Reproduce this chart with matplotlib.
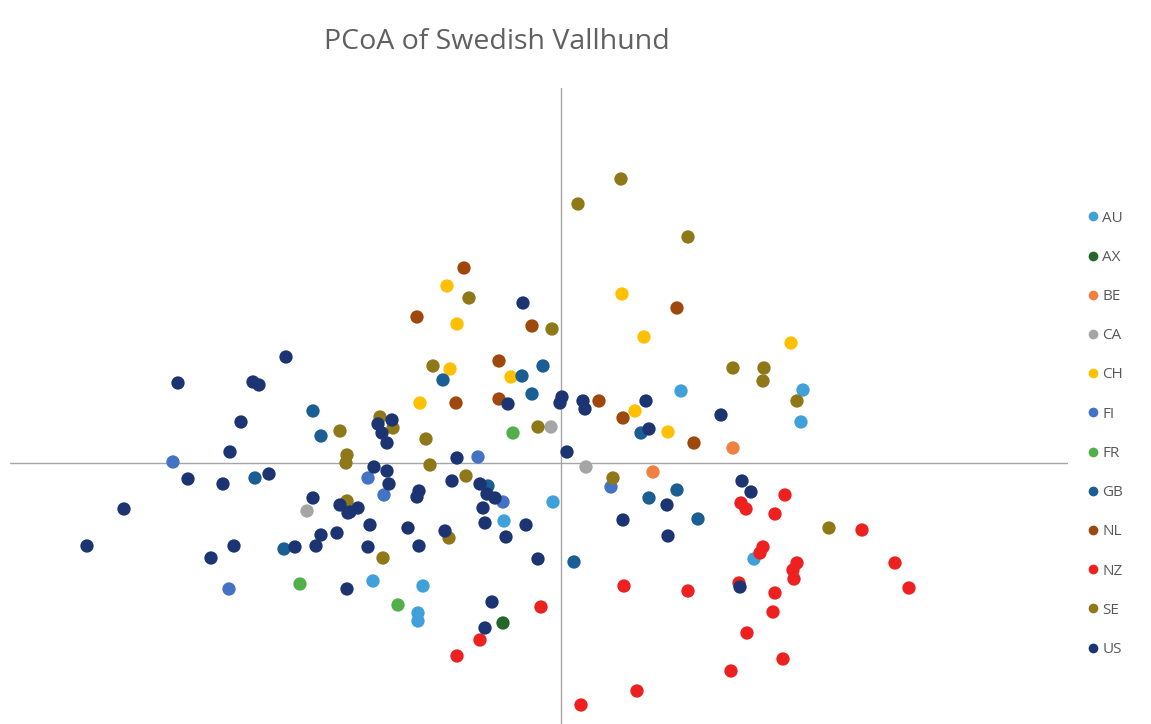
import matplotlib
matplotlib.use("Agg")
import matplotlib.pyplot as plt
from matplotlib.lines import Line2D

plt.rcParams['font.family'] = ['Open Sans', 'DejaVu Sans']

# PCoA coordinates (PC1, PC2) per country
AU_x = [0.120, 0.242, 0.240, -0.008, -0.057, -0.188, -0.138, -0.143, -0.143, 0.193]
AU_y = [0.072, 0.073, 0.041, -0.039, -0.058, -0.118, -0.123, -0.150, -0.158, -0.096]

AX_x = [-0.058]
AX_y = [-0.160]

BE_x = [0.092, 0.172]
BE_y = [-0.009, 0.015]

CA_x = [-0.010, 0.025, -0.254]
CA_y = [0.036, -0.004, -0.048]

CH_x = [-0.114, -0.104, 0.061, 0.083, -0.111, -0.050, -0.141, 0.074, 0.107, 0.230]
CH_y = [0.177, 0.139, 0.169, 0.126, 0.094, 0.086, 0.060, 0.052, 0.031, 0.120]

FI_x = [-0.388, -0.193, -0.177, -0.083, -0.058, 0.050, -0.332]
FI_y = [0.001, -0.015, -0.032, 0.006, -0.039, -0.024, -0.126]

FR_x = [-0.048, -0.261, -0.163]
FR_y = [0.030, -0.121, -0.142]

GB_x = [-0.248, -0.240, -0.306, -0.277, -0.118, -0.039, -0.018, -0.029,
        -0.073, 0.013, 0.080, 0.116, 0.088, 0.137]
GB_y = [0.052, 0.027, -0.015, -0.086, 0.083, 0.087, 0.097, 0.069,
        -0.023, -0.099, 0.030, -0.027, -0.035, -0.056]

NL_x = [-0.097, -0.144, -0.029, -0.062, -0.105, -0.062, 0.038, 0.062, 0.116, 0.133]
NL_y = [0.195, 0.146, 0.137, 0.102, 0.060, 0.064, 0.062, 0.045, 0.155, 0.020]

NZ_x = [-0.020, -0.081, -0.104, 0.063, 0.076, 0.020, 0.180, 0.185, 0.224, 0.214,
        0.301, 0.202, 0.199, 0.236, 0.232, 0.233, 0.334, 0.348, 0.127, 0.178,
        0.214, 0.212, 0.186, 0.222, 0.170]
NZ_y = [-0.144, -0.177, -0.193, -0.123, -0.228, -0.242, -0.040, -0.046, -0.032, -0.051,
        -0.067, -0.084, -0.090, -0.100, -0.107, -0.116, -0.100, -0.125, -0.128, -0.120,
        -0.130, -0.149, -0.170, -0.196, -0.208]

SE_x = [0.060, 0.017, 0.127, -0.092, -0.009, -0.128, -0.221, -0.214, -0.215, -0.181,
        -0.168, -0.135, -0.131, -0.214, -0.178, -0.095, -0.112, -0.023, 0.052, 0.172,
        0.203, 0.202, 0.236, 0.268]
SE_y = [0.284, 0.259, 0.226, 0.165, 0.134, 0.097, 0.032, 0.008, 0.000, 0.046,
        0.035, 0.024, -0.002, -0.038, -0.095, -0.013, -0.075, 0.036, -0.015, 0.095,
        0.095, 0.082, 0.062, -0.065]

US_x = [-0.275, -0.383, -0.308, -0.302, -0.320, -0.331, -0.373, -0.338, -0.292, -0.437,
        -0.474, -0.248, -0.221, -0.211, -0.203, -0.327, -0.350, -0.266, -0.240, -0.245,
        -0.224, -0.214, -0.169, -0.183, -0.179, -0.174, -0.187, -0.174, -0.172, -0.142,
        -0.144, -0.213, -0.191, -0.153, -0.193, -0.142, -0.104, -0.109, -0.081, -0.074,
        -0.066, -0.078, -0.116, -0.076, -0.035, -0.055, -0.023, -0.069, -0.076, -0.038,
        -0.053, 0.001, -0.001, 0.022, 0.024, 0.085, 0.088, 0.006, 0.160, 0.106,
        0.062, 0.107, 0.181, 0.190, 0.179]
US_y = [0.106, 0.080, 0.081, 0.078, 0.041, 0.011, -0.016, -0.021, -0.011, -0.046,
        -0.083, -0.035, -0.042, -0.049, -0.045, -0.083, -0.095, -0.084, -0.072, -0.083,
        -0.070, -0.126, 0.043, 0.039, 0.030, 0.020, -0.004, -0.008, -0.021, -0.028,
        -0.034, -0.050, -0.062, -0.065, -0.084, -0.083, 0.005, -0.018, -0.021, -0.031,
        -0.035, -0.045, -0.068, -0.060, -0.062, -0.074, -0.096, -0.139, -0.165, 0.160,
        0.059, 0.066, 0.060, 0.062, 0.054, 0.062, 0.034, 0.011, 0.048, -0.042,
        -0.057, -0.073, -0.018, -0.029, -0.124]

countries = ['AU', 'AX', 'BE', 'CA', 'CH', 'FI', 'FR', 'GB', 'NL', 'NZ', 'SE', 'US']
xs = [AU_x, AX_x, BE_x, CA_x, CH_x, FI_x, FR_x, GB_x, NL_x, NZ_x, SE_x, US_x]
ys = [AU_y, AX_y, BE_y, CA_y, CH_y, FI_y, FR_y, GB_y, NL_y, NZ_y, SE_y, US_y]
colors = ['#3FA0DA', '#25662B', '#F08241', '#A5A5A5', '#FFC000', '#4472C4',
          '#52B04B', '#1B5E93', '#9E480E', '#EE2020', '#8F7818', '#1C3572']

fig = plt.figure(figsize=(11.51, 7.24), dpi=100)
ax = fig.add_axes([10 / 1151, 0, 1058 / 1151, 636 / 724])

for x, y, c in zip(xs, ys, colors):
    ax.scatter(x, y, s=92, color=c, edgecolors='none', zorder=3)

ax.axhline(0, color='#a6a6a6', lw=1, zorder=1)
ax.axvline(0, color='#a6a6a6', lw=1, zorder=1)
ax.set_xlim(-0.551, 0.507)
ax.set_ylim(-0.261, 0.375)
ax.set_xticks([])
ax.set_yticks([])
for s in ax.spines.values():
    s.set_visible(False)

fig.text(497 / 1151, 1 - 42 / 724, 'PCoA of Swedish Vallhund', ha='center', va='center',
         fontsize=20.5, color='#606060')

handles = [Line2D([], [], marker='o', linestyle='none', markersize=7,
                  markerfacecolor=c, markeredgecolor='none') for c in colors]
leg = fig.legend(handles, countries, loc='upper left',
                 bbox_to_anchor=(1078 / 1151, 1 - 203 / 724), frameon=False,
                 fontsize=11, labelspacing=1.585, handletextpad=0.1, handlelength=1.0,
                 borderpad=0)
for t in leg.get_texts():
    t.set_color('#595959')

fig.savefig('out.png', dpi=100)
plt.close(fig)
